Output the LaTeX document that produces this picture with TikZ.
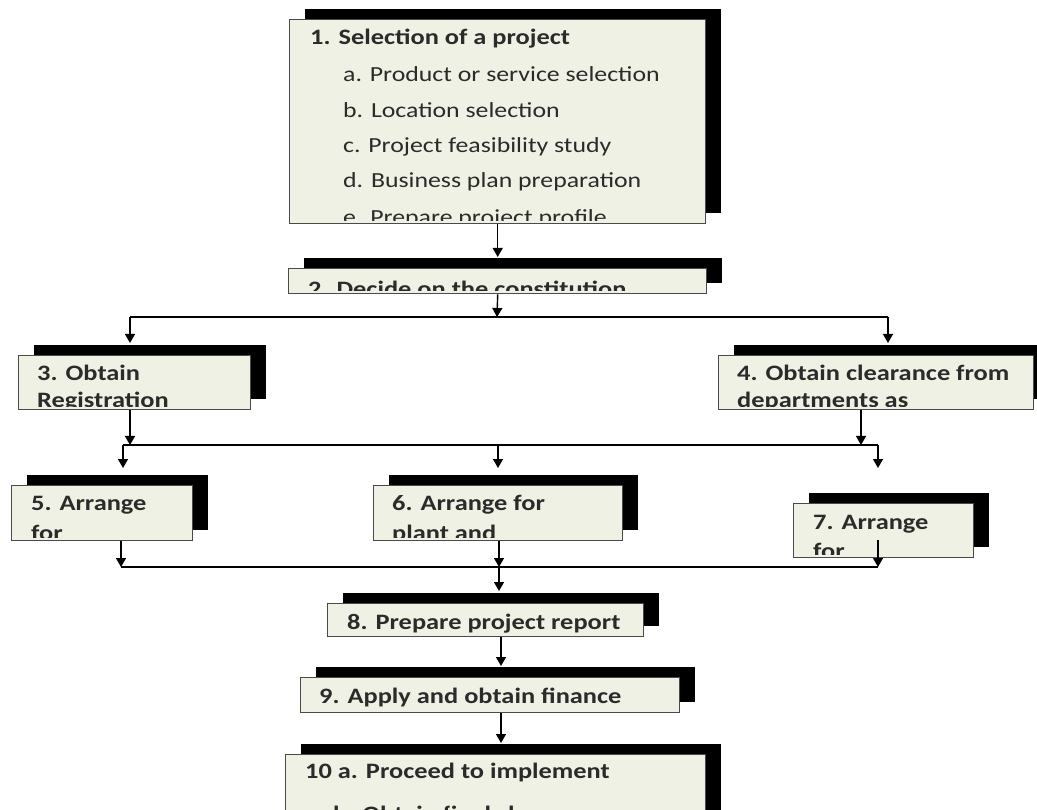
\documentclass[tikz,border=0pt]{standalone}
\usepackage{fontspec}
\setmainfont{Carlito}[FakeStretch=1.2]
\usetikzlibrary{arrows.meta,shadows}

\definecolor{boxfill}{HTML}{EEF1E3}
\definecolor{boxline}{HTML}{4A4A4A}
\definecolor{ink}{HTML}{2B2B2B}

\tikzset{
  stepbox/.style={draw=boxline, fill=boxfill, line width=1.4pt, inner sep=0pt,
    anchor=north west,
    general shadow={fill=black, shadow xshift=15pt, shadow yshift=10.5pt}},
  head/.style={anchor=base west, inner sep=0pt, text=ink,
    font=\fontsize{22}{26}\selectfont\bfseries},
  sub/.style={anchor=base west, inner sep=0pt, text=ink,
    font=\fontsize{21.5}{26}\selectfont},
  link/.style={draw=black, line width=1.4pt},
  arr/.style={link, -{Triangle[width=10pt,length=9pt]}},
}

% clip region inside a box, slightly above its lower border
\newcommand\boxclip[1]{\clip ([shift={(2pt,-2pt)}]#1.north west) rectangle ([shift={(-2pt,4pt)}]#1.south east);}

\begin{document}
\begin{tikzpicture}[x=1pt,y=-1pt]
\useasboundingbox (0,0) rectangle (1037,810);
\fill[white] (0,0) rectangle (1037,810);
\clip (0,0) rectangle (1037,810);

% ---------- boxes ----------
\node[stepbox, minimum width=416pt, minimum height=204pt] (b1) at (289,19) {};
\node[stepbox, minimum width=418pt, minimum height=25pt]  (b2) at (288,268) {};
\node[stepbox, minimum width=232pt, minimum height=54pt]  (b3) at (18,355) {};
\node[stepbox, minimum width=315pt, minimum height=54pt]  (b4) at (718,355) {};
\node[stepbox, minimum width=181pt, minimum height=55pt]  (b5) at (11,485) {};
\node[stepbox, minimum width=249pt, minimum height=55pt]  (b6) at (373,485) {};
\node[stepbox, minimum width=180pt, minimum height=54pt]  (b7) at (793,503) {};
\node[stepbox, minimum width=316pt, minimum height=33pt]  (b8) at (327,603) {};
\node[stepbox, minimum width=379pt, minimum height=35pt]  (b9) at (300,677) {};
\node[stepbox, minimum width=420pt, minimum height=70pt]  (b10) at (285,754) {};

% ---------- box texts ----------
\begin{scope}\boxclip{b1}
  \node[head] (t1) at (310,45) {1. Selection of a project};
  \node[sub] (t1a) at (343,82)  {a. Product or service selection};
  \node[sub] (t1b) at (343,118) {b. Location selection};
  \node[sub] (t1c) at (343,153) {c. Project feasibility study};
  \node[sub] (t1d) at (343,188) {d. Business plan preparation};
  \node[sub] (t1e) at (343,225) {e. Prepare project profile};
\end{scope}
\begin{scope}\boxclip{b2}
  \node[head] (t2) at (308,297) {2. Decide on the constitution};
\end{scope}
\begin{scope}\boxclip{b3}
  \node[head] (t3) at (37,381) {3. Obtain};
  \node[head] (t3b) at (37,408) {Registration};
\end{scope}
\begin{scope}\boxclip{b4}
  \node[head] (t4) at (737,381) {4. Obtain clearance from};
  \node[head] (t4b) at (737,408) {departments as};
\end{scope}
\begin{scope}\boxclip{b5}
  \node[head] (t5) at (31,510) {5. Arrange};
  \node[head] (t5b) at (31,540) {for};
\end{scope}
\begin{scope}\boxclip{b6}
  \node[head] (t6) at (392,510) {6. Arrange for};
  \node[head] (t6b) at (392,540) {plant and};
\end{scope}
\begin{scope}\boxclip{b7}
  \node[head] (t7) at (813,529) {7. Arrange};
  \node[head] (t7b) at (813,558) {for};
\end{scope}
\begin{scope}\boxclip{b8}
  \node[head] (t8) at (347,629) {8. Prepare project report};
\end{scope}
\begin{scope}\boxclip{b9}
  \node[head] (t9) at (319,703) {9. Apply and obtain finance};
\end{scope}
\begin{scope}\boxclip{b10}
  \node[head] (t10) at (305,778) {10 a. Proceed to implement};
  \node[head] (t10b) at (333,821) {b. Obtain final clearances};
\end{scope}

% ---------- junction points ----------
\coordinate (s1)  at (497,317);
\coordinate (s1l) at (130,317);
\coordinate (s1r) at (888,317);
\coordinate (e3)  at (130,343);
\coordinate (e4)  at (888,343);
\coordinate (s2l) at (123,445);
\coordinate (s2m) at (498,445);
\coordinate (s2r) at (878,445);
\coordinate (s24) at (861,445);
\coordinate (e5)  at (123,468);
\coordinate (e6)  at (498,468);
\coordinate (e7)  at (878,468);
\coordinate (s3l) at (121,567);
\coordinate (s3m) at (499,567);
\coordinate (s3r) at (878,567);
\coordinate (c7)  at (878,540);
\coordinate (e8)  at (499,591);
\coordinate (e9)  at (501,666);
\coordinate (e10) at (501,743);

% ---------- connectors ----------
\draw[arr] (b1.south) -- ([yshift=11pt]b2.north);
\draw[arr] (b2.south) -- (s1);
\draw[link] (s1l) -- (s1r);
\draw[arr] (s1l) -- (e3);
\draw[arr] (s1r) -- (e4);

\draw[arr] (s1l |- b3.south) -- (s1l |- s2l);
\draw[arr] (s24 |- b4.south) -- (s24);
\draw[link] (s2l) -- (s2r);
\draw[arr] (s2l) -- (e5);
\draw[arr] (s2m) -- (e6);
\draw[arr] (s2r) -- (e7);

\draw[arr] (s3l |- b5.south) -- (s3l);
\draw[arr] (s3m |- b6.south) -- (s3m);
\draw[arr] (c7) -- (s3r);
\draw[link] (s3l) -- (s3r);
\draw[arr] (s3m) -- (e8);

\draw[arr] (e9 |- b8.south) -- (e9);
\draw[arr] (e10 |- b9.south) -- (e10);
\end{tikzpicture}
\end{document}
